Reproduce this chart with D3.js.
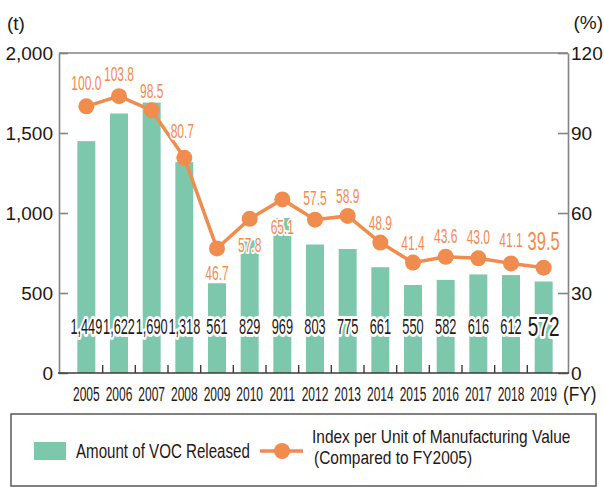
<!DOCTYPE html>
<html>
<head>
<meta charset="utf-8">
<script src="https://cdn.jsdelivr.net/npm/d3@7"></script>
<style>
  html, body { margin: 0; padding: 0; background: #fff; }
  svg { display: block; }
</style>
</head>
<body>
<svg id="chart" width="604" height="487"></svg>
<script>
// ---- data ----
const years = ['2005','2006','2007','2008','2009','2010','2011','2012','2013','2014','2015','2016','2017','2018','2019'];
const vocReleased = [1449, 1622, 1690, 1318, 561, 829, 969, 803, 775, 661, 550, 582, 616, 612, 572];
const indexValues = [100.0, 103.8, 98.5, 80.7, 46.7, 57.8, 65.1, 57.5, 58.9, 48.9, 41.4, 43.6, 43.0, 41.1, 39.5];
const leftTicks = [0, 500, 1000, 1500, 2000];
const rightTicks = [0, 30, 60, 90, 120];

// label placement for the index line (dx, dy from the dot centre)
const indexLabelOffset = [
  [0, -24], [0, -22], [0, -20], [-2, -27], [0, 24], [0, 26], [0, 27], [0, -22],
  [0, -20], [0, -20], [0, -20], [0, -21], [0, -22], [0, -24], [0, -27]
];

// ---- layout & style ----
const frame = { left: 59, right: 568, top: 53, bottom: 373 };
const SANS = '"Liberation Sans",Arial,sans-serif';
const INK = '#231815';
const GREEN = '#7dc8ad';
const ORANGE = '#f08c4e';
const FRAME = '#858383';
const AXIS = '#3e3a39';

const svg = d3.select('#chart');

const x = d3.scaleBand().domain(years).range([70, 560]).paddingInner(0.45).paddingOuter(0.225);
const yL = d3.scaleLinear().domain([0, 2000]).range([frame.bottom, frame.top]);
const yR = d3.scaleLinear().domain([0, 120]).range([frame.bottom, frame.top]);
const cx = i => x(years[i]) + x.bandwidth() / 2;

// condensed text: positioned by a transform so the glyphs can be narrowed
function narrowText(parent, str, px, py, opts) {
  const o = Object.assign({ size: 18, sx: 0.66, anchor: 'middle', fill: INK, weight: 'normal' }, opts || {});
  return parent.append('text')
    .attr('transform', `translate(${px},${py}) scale(${o.sx},1)`)
    .attr('text-anchor', o.anchor)
    .attr('font-family', SANS)
    .attr('font-size', o.size)
    .attr('font-weight', o.weight)
    .attr('fill', o.fill)
    .text(str);
}

function halo(sel, w) {
  return sel.attr('stroke', '#fff').attr('stroke-width', w)
    .attr('stroke-linejoin', 'round').attr('paint-order', 'stroke');
}

// ---- top frame line ----
svg.append('line')
  .attr('x1', frame.left).attr('x2', frame.right)
  .attr('y1', yL(2000)).attr('y2', yL(2000))
  .attr('stroke', FRAME).attr('stroke-width', 1.6);

// ---- bars ----
svg.append('g').selectAll('rect')
  .data(vocReleased)
  .join('rect')
  .attr('x', (d, i) => x(years[i]))
  .attr('width', x.bandwidth())
  .attr('y', d => yL(d))
  .attr('height', d => yL(0) - yL(d))
  .attr('fill', GREEN);

// ---- left axis ----
const axL = svg.append('g')
  .attr('transform', `translate(${frame.left},0)`)
  .call(d3.axisLeft(yL).tickValues(leftTicks).tickFormat(d3.format(','))
    .tickSizeInner(-9).tickSizeOuter(0).tickPadding(6));
axL.select('.domain').attr('stroke', FRAME).attr('stroke-width', 1.6);
axL.selectAll('.tick line').attr('stroke', FRAME).attr('stroke-width', 1.6);
axL.selectAll('.tick text').attr('font-family', SANS).attr('font-size', 19).attr('fill', INK);

// ---- right axis ----
const axR = svg.append('g')
  .attr('transform', `translate(${frame.right},0)`)
  .call(d3.axisRight(yR).tickValues(rightTicks)
    .tickSizeInner(-10).tickSizeOuter(0).tickPadding(3));
axR.select('.domain').attr('stroke', FRAME).attr('stroke-width', 1.6);
axR.selectAll('.tick line').attr('stroke', FRAME).attr('stroke-width', 1.6);
axR.selectAll('.tick text').attr('font-family', SANS).attr('font-size', 19).attr('fill', INK);

// ---- bottom axis ----
svg.append('line')
  .attr('x1', frame.left - 1).attr('x2', frame.right + 1)
  .attr('y1', frame.bottom).attr('y2', frame.bottom)
  .attr('stroke', AXIS).attr('stroke-width', 1.6);

// category separators
svg.append('g').selectAll('line')
  .data(years.slice(1))
  .join('line')
  .attr('x1', d => x(d) - x.step() * x.paddingInner() / 2)
  .attr('x2', d => x(d) - x.step() * x.paddingInner() / 2)
  .attr('y1', frame.bottom - 8).attr('y2', frame.bottom)
  .attr('stroke', AXIS).attr('stroke-width', 1.4);

// year labels
const yearG = svg.append('g');
years.forEach((yr, i) => narrowText(yearG, yr, cx(i), 401, { size: 20, sx: 0.6 }));
narrowText(svg, '(FY)', 563, 401, { size: 20, sx: 0.86, anchor: 'start' });

// unit labels
svg.append('text').attr('x', 7).attr('y', 30)
  .attr('font-family', SANS).attr('font-size', 19).attr('fill', INK).text('(t)');
svg.append('text').attr('x', 603).attr('y', 29).attr('text-anchor', 'end')
  .attr('font-family', SANS).attr('font-size', 19).attr('fill', INK).text('(%)');

// ---- bar value labels (white halo) ----
const barLabelG = svg.append('g');
vocReleased.forEach((v, i) => {
  const last = i === vocReleased.length - 1;
  halo(narrowText(barLabelG, d3.format(',')(v), cx(i), last ? 336 : 334,
    last ? { size: 28, sx: 0.68 } : { size: 22, sx: 0.58 }), 6);
});

// ---- index line ----
svg.append('path')
  .datum(indexValues)
  .attr('d', d3.line().x((d, i) => cx(i)).y(d => yR(d)))
  .attr('fill', 'none').attr('stroke', ORANGE).attr('stroke-width', 3.5);

svg.append('g').selectAll('circle')
  .data(indexValues)
  .join('circle')
  .attr('cx', (d, i) => cx(i)).attr('cy', d => yR(d)).attr('r', 8)
  .attr('fill', ORANGE);

const idxLabelG = svg.append('g');
indexValues.forEach((v, i) => {
  const last = i === indexValues.length - 1;
  const [dx, dy] = indexLabelOffset[i];
  const size = last ? 25 : 20;
  halo(narrowText(idxLabelG, d3.format('.1f')(v), cx(i) + dx, yR(v) + dy + size * 0.36,
    { size: size, sx: last ? 0.66 : 0.6, fill: ORANGE }), 4);
});

// ---- legend ----
const lg = svg.append('g');
lg.append('rect')
  .attr('x', 11).attr('y', 414).attr('width', 585).attr('height', 72)
  .attr('fill', 'none').attr('stroke', '#595757').attr('stroke-width', 1.5);
lg.append('rect')
  .attr('x', 34).attr('y', 442).attr('width', 32).attr('height', 18)
  .attr('fill', GREEN);
narrowText(lg, 'Amount of VOC Released', 76, 458, { size: 21, sx: 0.72, anchor: 'start' });
lg.append('line')
  .attr('x1', 260).attr('x2', 303).attr('y1', 451).attr('y2', 451)
  .attr('stroke', ORANGE).attr('stroke-width', 3.5);
lg.append('circle').attr('cx', 282).attr('cy', 451).attr('r', 8).attr('fill', ORANGE);
narrowText(lg, 'Index per Unit of Manufacturing Value', 312, 443, { size: 18, sx: 0.86, anchor: 'start' });
narrowText(lg, '(Compared to FY2005)', 314, 464, { size: 18, sx: 0.86, anchor: 'start' });
</script>
</body>
</html>
